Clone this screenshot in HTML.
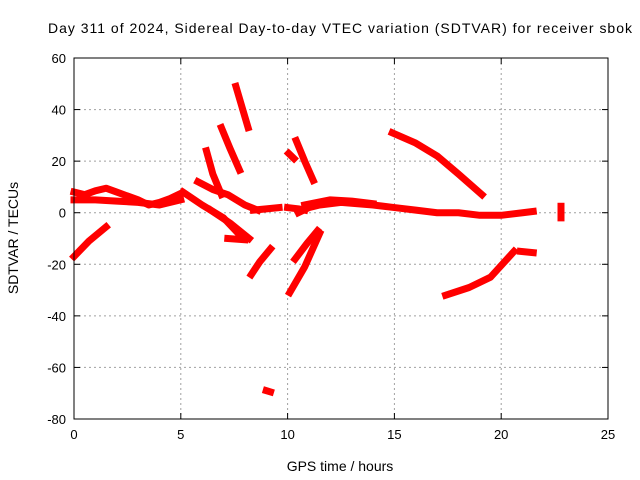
<!DOCTYPE html>
<html><head><meta charset="utf-8"><style>
body{margin:0;background:#fff}
svg{display:block;font-family:"Liberation Sans",sans-serif}
</style></head><body>
<svg id="chart" width="640" height="480" xmlns="http://www.w3.org/2000/svg">
<text x="340" y="33" font-size="14" text-anchor="middle" textLength="584">Day 311 of 2024, Sidereal Day-to-day VTEC variation (SDTVAR) for receiver sbok</text>
<text x="340" y="471" font-size="14" text-anchor="middle">GPS time / hours</text>
<text x="18" y="238" font-size="14" text-anchor="middle" transform="rotate(-90 18 238)">SDTVAR / TECUs</text>
<g id="grid"></g><g id="marks"></g>
<rect x="74" y="58" width="534" height="361" fill="none" stroke="#000" stroke-width="1"/>
</svg>
<script>
const xTicks=[0,5,10,15,20,25];
const yTicks=[60,40,20,0,-20,-40,-60,-80];
const seg1=[[0,8],[0.5,7],[1,8.5],[1.5,9.5],[2,8],[2.5,6.5],[3,5],[3.5,3],[4,4],[4.5,5.5],[5,7.5]];
const seg2=[[0,5],[1,5],[2,4.5],[3,4],[4,3],[5,5]];
const seg3=[[0,-17],[0.7,-11],[1.5,-5.5]];
const seg4=[[7.58,49],[7.9,40],[8.15,33]];
const seg5=[[6.9,33],[7.3,25],[7.75,16.5]];
const seg6=[[6.2,24],[6.5,15],[6.9,7]];
const seg7=[[10.4,28],[10.8,20],[11.2,12.5]];
const seg8=[[10.05,23],[10.3,21]];
const seg9=[[14.9,31],[16,27],[17,22],[18,15],[19.1,7]];
const seg10=[[17.4,-32],[18.5,-29],[19.5,-25],[20.6,-15]];
const seg11=[[20.9,-15],[21.5,-15.5]];
const seg12=[[10.5,0],[11,2],[11.5,3],[12.5,4],[14,3],[15,2],[16,1],[17,0],[18,0],[19,-1],[20,-1],[21,0],[21.5,0.5]];
const seg13=[[10.8,3],[12,5],[13,4.5],[14,3.5]];
const seg14=[[22.8,2.5],[22.8,-2]];
const seg15=[[8.3,-24],[8.7,-19],[9.2,-14]];
const seg16=[[10.1,-31],[10.8,-21],[11.5,-8]];
const seg17=[[10.35,-18],[10.9,-12],[11.4,-7]];
const seg18=[[9.0,-69],[9.2,-69.5]];
const seg19=[[5.8,12],[6.5,9],[7.2,7],[8,3],[8.6,1]];
const seg20=[[5.1,8],[6,3],[7,-2],[7.8,-9]];
const seg21=[[6.4,1],[7.3,-4],[8.2,-10]];
const seg22=[[8.4,1],[9,1.5],[9.6,2]];
const seg23=[[10,2],[10.5,1.5],[10.8,1]];
const seg24=[[7.2,-10],[8,-10.5]];
const series=[seg1,seg2,seg3,seg4,seg5,seg6,seg7,seg8,seg9,seg10,seg11,seg12,seg13,seg14,seg15,seg16,seg17,seg18,seg19,seg20,seg21,seg22,seg23,seg24];
const X0=74,X1=608,Y0=58,Y1=419;
const xs=v=>X0+(v-0)/25*(X1-X0);
const ys=v=>Y1-(v+80)/140*(Y1-Y0);
const NS="http://www.w3.org/2000/svg";
const grid=document.getElementById('grid'),marks=document.getElementById('marks');
function mk(t,a){const e=document.createElementNS(NS,t);for(const k in a)e.setAttribute(k,a[k]);return e;}
xTicks.forEach(t=>{
 const x=xs(t);
 if(t>0&&t<25){const l=mk('line',{x1:x,x2:x,y1:Y0,y2:Y1,stroke:'#a0a0a0','stroke-dasharray':'2,3'});
 
 grid.appendChild(l);}
 const tk=mk('line',{x1:x,x2:x,y1:Y1,y2:Y1-6,stroke:'#000'});grid.appendChild(tk);
 const tk2=mk('line',{x1:x,x2:x,y1:Y0,y2:Y0+6,stroke:'#000'});grid.appendChild(tk2);
 const tx=mk('text',{x:x,y:Y1+20,'font-size':13,'text-anchor':'middle'});tx.textContent=t;
 
 grid.appendChild(tx);
});
yTicks.forEach(t=>{
 const y=ys(t);
 if(t>-80&&t<60){const l=mk('line',{x1:X0,x2:X1,y1:y,y2:y,stroke:'#a0a0a0','stroke-dasharray':'2,3'});
 
 grid.appendChild(l);}
 grid.appendChild(mk('line',{x1:X0,x2:X0+6,y1:y,y2:y,stroke:'#000'}));
 grid.appendChild(mk('line',{x1:X1,x2:X1-6,y1:y,y2:y,stroke:'#000'}));
 const tx=mk('text',{x:X0-8,y:y+5,'font-size':13,'text-anchor':'end'});tx.textContent=t;
 
 grid.appendChild(tx);
});
series.forEach(s=>{
 const p=mk('polyline',{points:s.map(d=>xs(d[0])+','+ys(d[1])).join(' '),fill:'none',stroke:'#f00','stroke-width':7,'stroke-linejoin':'round','stroke-linecap':'square'});
 
 
 marks.appendChild(p);
});
</script>
</body></html>
